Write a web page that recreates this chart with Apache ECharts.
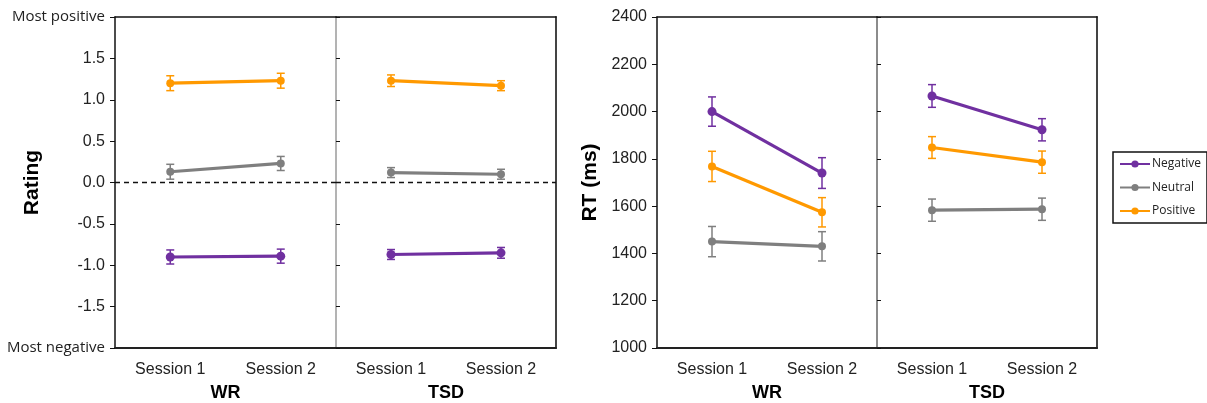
<!DOCTYPE html>
<html><head><meta charset="utf-8">
<script src="https://cdn.jsdelivr.net/npm/echarts@6/dist/echarts.min.js"></script>
<style>html,body{margin:0;padding:0;background:#fff}#c{width:1207px;height:403px}</style>
</head><body><div id="c"></div>
<script>
const sessions = ['Session 1', 'Session 2'];
const groups = ['WR', 'TSD'];
const conditions = ['Negative', 'Neutral', 'Positive'];
const colors = ['#7030A0', '#7F7F7F', '#FF9900'];

// Rating means and SE (WR / TSD)
const ratingWRNegative = [-0.90, -0.89];
const ratingWRNeutral = [0.13, 0.23];
const ratingWRPositive = [1.20, 1.23];
const ratingTSDNegative = [-0.87, -0.85];
const ratingTSDNeutral = [0.12, 0.10];
const ratingTSDPositive = [1.23, 1.17];
const ratingErrWRNegative = [0.085, 0.085];
const ratingErrWRNeutral = [0.09, 0.085];
const ratingErrWRPositive = [0.09, 0.09];
const ratingErrTSDNegative = [0.06, 0.065];
const ratingErrTSDNeutral = [0.06, 0.06];
const ratingErrTSDPositive = [0.07, 0.06];

// RT means and SE (ms)
const rtWRNegative = [2000, 1740];
const rtWRNeutral = [1450, 1430];
const rtWRPositive = [1768, 1574];
const rtTSDNegative = [2066, 1923];
const rtTSDNeutral = [1583, 1587];
const rtTSDPositive = [1848, 1786];
const rtErrWRNegative = [62, 65];
const rtErrWRNeutral = [64, 62];
const rtErrWRPositive = [64, 62];
const rtErrTSDNegative = [48, 47];
const rtErrTSDNeutral = [47, 47];
const rtErrTSDPositive = [46, 47];

const ratingTicks = {min: -2, max: 2, interval: 0.5};
const rtTicks = {min: 1000, max: 2400, interval: 200};

const NUM_FONT = 'Liberation Sans, Arial, sans-serif';

const chart = echarts.init(document.getElementById('c'), null, {renderer: 'canvas'});

const grids = [
  {left: 115, right: 1207 - 336, top: 17, bottom: 55},
  {left: 336, right: 1207 - 556, top: 17, bottom: 55},
  {left: 657, right: 1207 - 877, top: 17, bottom: 55},
  {left: 877, right: 1207 - 1097, top: 17, bottom: 55}
].map(g => Object.assign(g, {containLabel: false, outerBoundsMode: 'none'}));

const xAxes = [];
const yAxes = [];
grids.forEach((g, i) => {
  // bottom category axis
  xAxes.push({
    type: 'category', gridIndex: i, data: sessions, position: 'bottom',
    axisLine: {onZero: false, lineStyle: {color: '#222', width: 2}},
    axisTick: {show: false},
    axisLabel: {color: '#222', fontSize: 16, fontFamily: NUM_FONT, margin: 14},
    name: groups[i % 2], nameLocation: 'middle', nameGap: 36, nameMoveOverlap: false,
    nameTextStyle: {color: '#000', fontSize: 18, fontWeight: 'bold', fontFamily: NUM_FONT}
  });
  // top frame axis
  xAxes.push({
    type: 'category', gridIndex: i, data: sessions, position: 'top',
    axisLine: {onZero: false, lineStyle: {color: '#111', width: 1.5}},
    axisTick: {show: false}, axisLabel: {show: false}
  });
});

const isRating = i => i < 2;
grids.forEach((g, i) => {
  const t = isRating(i) ? ratingTicks : rtTicks;
  const first = i % 2 === 0;
  yAxes.push({
    type: 'value', gridIndex: i, position: 'left',
    min: t.min, max: t.max, interval: t.interval,
    splitLine: {show: false},
    axisLine: {show: true, onZero: false, lineStyle: {color: first ? '#111' : (isRating(i) ? '#9a9a9a' : '#666'), width: 1.5}},
    axisTick: {show: true, inside: !first, length: first ? 5 : 4, lineStyle: {color: '#111', width: 1}},
    axisLabel: first ? {
      show: true, margin: 10, color: '#222', fontSize: 16, fontFamily: NUM_FONT,
      formatter: isRating(i) ? function (v) {
        if (v >= 2) return '{m|Most positive}';
        if (v <= -2) return '{m|Most negative}';
        return v.toFixed(1);
      } : function (v) { return String(v); },
      rich: {m: {fontFamily: 'Open Sans, sans-serif', fontSize: 15, color: '#222'}}
    } : {show: false},
    name: first ? (isRating(i) ? 'Rating' : 'RT (ms)') : '',
    nameLocation: 'middle', nameRotate: 90, nameMoveOverlap: false,
    nameGap: isRating(i) ? 72 : 56,
    nameTextStyle: {color: '#000', fontSize: 21, fontWeight: 'bold', fontFamily: NUM_FONT}
  });
});
// right frame axes for the second grid of each chart
[1, 3].forEach(i => {
  const t = isRating(i) ? ratingTicks : rtTicks;
  yAxes.push({
    type: 'value', gridIndex: i, position: 'right',
    min: t.min, max: t.max, interval: t.interval,
    splitLine: {show: false},
    axisLine: {show: true, onZero: false, lineStyle: {color: '#444', width: 2}},
    axisTick: {show: false}, axisLabel: {show: false}
  });
});

function errRender(color) {
  return function (params, api) {
    const x = api.value(0);
    const lo = api.coord([x, api.value(1)]);
    const hi = api.coord([x, api.value(2)]);
    const hw = 4;
    const st = {stroke: color, lineWidth: 1.5};
    return {
      type: 'group',
      children: [
        {type: 'line', shape: {x1: lo[0], y1: lo[1], x2: hi[0], y2: hi[1]}, style: st},
        {type: 'line', shape: {x1: hi[0] - hw, y1: hi[1], x2: hi[0] + hw, y2: hi[1]}, style: st},
        {type: 'line', shape: {x1: lo[0] - hw, y1: lo[1], x2: lo[0] + hw, y2: lo[1]}, style: st}
      ]
    };
  };
}

const panels = [
  {grid: 0, means: [ratingWRNegative, ratingWRNeutral, ratingWRPositive], errs: [ratingErrWRNegative, ratingErrWRNeutral, ratingErrWRPositive]},
  {grid: 1, means: [ratingTSDNegative, ratingTSDNeutral, ratingTSDPositive], errs: [ratingErrTSDNegative, ratingErrTSDNeutral, ratingErrTSDPositive]},
  {grid: 2, means: [rtWRNegative, rtWRNeutral, rtWRPositive], errs: [rtErrWRNegative, rtErrWRNeutral, rtErrWRPositive]},
  {grid: 3, means: [rtTSDNegative, rtTSDNeutral, rtTSDPositive], errs: [rtErrTSDNegative, rtErrTSDNeutral, rtErrTSDPositive]}
];

const series = [];
panels.forEach(p => {
  const xi = p.grid * 2;
  const yi = p.grid;
  p.means.forEach((m, k) => {
    series.push({
      type: 'custom', xAxisIndex: xi, yAxisIndex: yi, silent: true, z: 2,
      renderItem: errRender(colors[k]),
      data: m.map((v, j) => [j, v - p.errs[k][j], v + p.errs[k][j]])
    });
  });
  p.means.forEach((m, k) => {
    const s = {
      name: conditions[k], type: 'line', xAxisIndex: xi, yAxisIndex: yi, z: 3,
      data: m, symbol: 'circle', symbolSize: k === 0 ? 9 : 8,
      itemStyle: {color: colors[k]},
      lineStyle: {color: colors[k], width: 3.2}
    };
    if (p.grid < 2 && k === 1) {
      s.markLine = {
        silent: true, symbol: 'none', label: {show: false},
        lineStyle: {color: '#111', type: [5, 4], width: 1.3},
        data: [{yAxis: 0}]
      };
    }
    series.push(s);
  });
});

chart.setOption({
  animation: false,
  grid: grids,
  xAxis: xAxes,
  yAxis: yAxes,
  legend: {
    data: conditions, orient: 'vertical', left: 1113, top: 152,
    itemWidth: 30, itemHeight: 9, itemGap: 11.5,
    padding: [6, 6, 6, 6],
    borderColor: '#111', borderWidth: 1.5, backgroundColor: '#fff',
    textStyle: {fontFamily: 'Open Sans, sans-serif', fontSize: 12, color: '#222', padding: [0, 0, 0, -3]}
  },
  series: series
});
</script>
</body></html>
